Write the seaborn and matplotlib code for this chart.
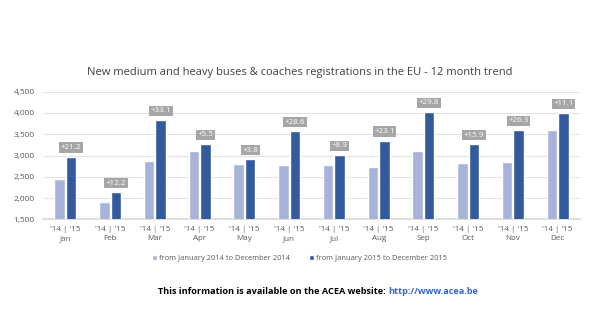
import matplotlib
matplotlib.use("Agg")
import matplotlib.pyplot as plt
import seaborn as sns
import pandas as pd
from matplotlib.ticker import FuncFormatter, FixedLocator

months = ["Jan", "Feb", "Mar", "Apr", "May", "Jun", "Jul", "Aug", "Sep", "Oct", "Nov", "Dec"]
values_2014 = [2455, 1905, 2880, 3105, 2805, 2780, 2770, 2725, 3105, 2815, 2855, 3600]
values_2015 = [2975, 2140, 3835, 3275, 2915, 3575, 3015, 3350, 4025, 3265, 3605, 4000]
changes = ["+21.2", "+12.2", "+33.1", "+5.5", "+3.8", "+28.6", "+8.9", "+23.1", "+29.8", "+15.9", "+26.3", "+11.1"]
series_names = ["from January 2014 to December 2014", "from January 2015 to December 2015"]
title = "New medium and heavy buses & coaches registrations in the EU - 12 month trend"
yticks = [1500, 2000, 2500, 3000, 3500, 4000, 4500]

df = pd.DataFrame({
    "month": months * 2,
    "value": values_2014 + values_2015,
    "series": [series_names[0]] * 12 + [series_names[1]] * 12,
})

sns.set_theme(style="white")
plt.rcParams["font.family"] = ["Open Sans", "DejaVu Sans"]

fig = plt.figure(figsize=(6.12, 3.32), dpi=100)
ax = fig.add_axes([43 / 612, 1 - 219.3 / 332, 537 / 612, 127.6 / 332])

palette = {series_names[0]: "#a7b3d9", series_names[1]: "#345a9e"}
sns.barplot(data=df, x="month", y="value", hue="series", order=months,
            hue_order=series_names, palette=palette, width=0.52, gap=0.1,
            saturation=1, ax=ax, legend=True, zorder=3)

ax.set_ylim(1500, 4500)
ax.yaxis.set_major_locator(FixedLocator(yticks))
ax.yaxis.set_major_formatter(FuncFormatter(lambda v, p: f"{int(v):,}"))
ax.grid(axis="y", color="#e3e3e3", linewidth=0.8, zorder=0)
for s in ax.spines.values():
    s.set_visible(False)
ax.spines["bottom"].set_visible(True)
ax.spines["bottom"].set_color("#d9d9d9")
ax.set_xlabel("")
ax.set_ylabel("")
ax.tick_params(axis="y", labelsize=6, colors="#595959", pad=6, length=0)
ax.tick_params(axis="x", labelsize=5.8, colors="#595959", pad=5, length=0)
ax.set_xticks(range(12))
ax.set_xticklabels(["'14 | '15\n" + m for m in months], linespacing=1.45)

# annotation boxes above the 2015 bars
bars_2015 = ax.containers[1]
for bar, txt in zip(bars_2015, changes):
    cx = bar.get_x() + bar.get_width() / 2
    top = bar.get_height()
    ax.annotate(txt, (cx, top), xytext=(0, 6.5), textcoords="offset points",
                ha="center", va="center", fontsize=5.8, color="white",
                bbox=dict(boxstyle="square,pad=0.2", fc="#a6a6a6", ec="none"),
                zorder=5)

leg = ax.legend(loc="upper center", bbox_to_anchor=(0.478, -0.23), ncol=2,
                frameon=False, fontsize=5.4, handlelength=0.6, handleheight=0.6,
                handletextpad=0.3, columnspacing=2.6)
for t in leg.get_texts():
    t.set_color("#595959")

fig.text(300 / 612, 1 - 73 / 332, title, ha="center", va="center",
         fontsize=8.0, color="#404040")

fig.text(388 / 612, 1 - 292 / 332, "This information is available on the ACEA website: ",
         ha="right", va="center", fontsize=6.6, fontweight="bold", color="black")
fig.text(388 / 612, 1 - 292 / 332, "http://www.acea.be",
         ha="left", va="center", fontsize=6.6, fontweight="bold", color="#3366cc")

fig.savefig("out.png", dpi=100, facecolor="white")
